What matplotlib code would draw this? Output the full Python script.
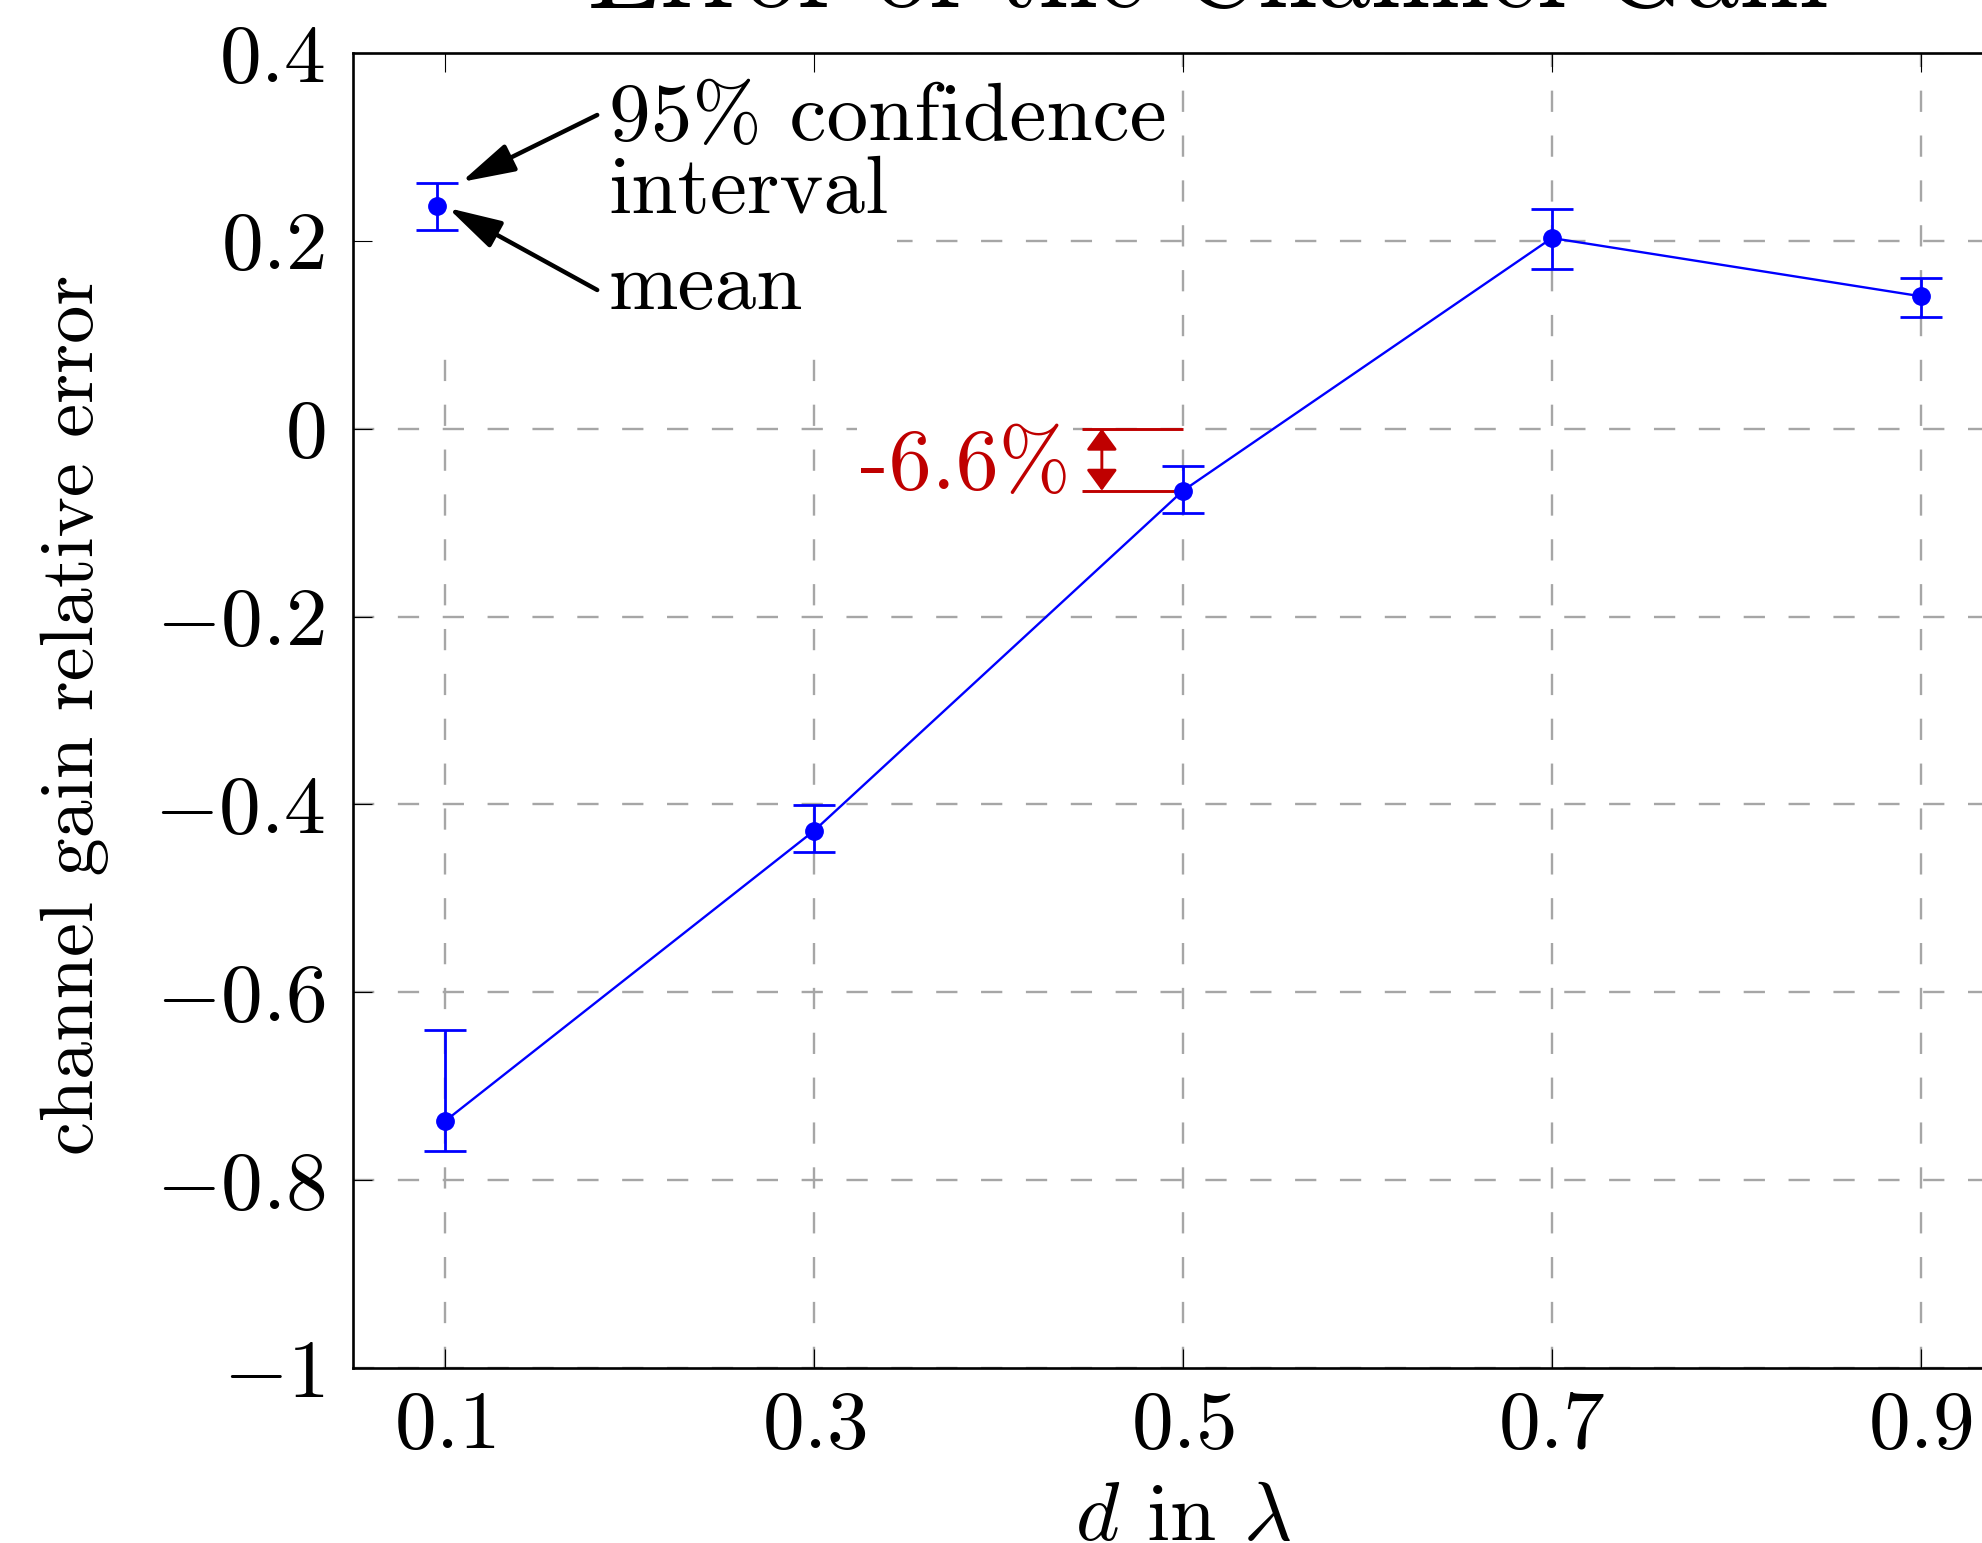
"""Relative error of the channel gain vs. antenna spacing, with CI error bars."""

import matplotlib

matplotlib.use("Agg")
import matplotlib.pyplot as plt
from matplotlib.patches import Rectangle
from matplotlib.ticker import FuncFormatter

# spacing d (in wavelengths) and the measured relative error with its 95% CI
d_lambda = [0.1, 0.3, 0.5, 0.7, 0.9]
err_mean = [-0.737, -0.428, -0.066, 0.203, 0.141]
ci_low = [-0.769, -0.451, -0.090, 0.170, 0.119]
ci_high = [-0.640, -0.401, -0.040, 0.234, 0.160]

# the explanatory sample drawn in the top-left corner
demo_x = [0.0955]
demo_mean = [0.237]
demo_low = [0.212]
demo_high = [0.262]

x_ticks = [0.1, 0.3, 0.5, 0.7, 0.9]
y_ticks = [-1.0, -0.8, -0.6, -0.4, -0.2, 0.0, 0.2, 0.4]

BLUE = "#0000ff"
DARKRED = "#bf0000"
GRID = "#a6a6a6"

W, H = 1983, 1543

plt.rcParams["font.family"] = "cmr10"
plt.rcParams["mathtext.fontset"] = "cm"
plt.rcParams["axes.formatter.use_mathtext"] = True

fig = plt.figure(figsize=(W / 100, H / 100), dpi=100)
# axes run past the right edge of the picture, as in the cropped original
ax = fig.add_axes([353 / W, (H - 1368) / H, 1660 / W, 1315 / H])
ax.set_xlim(0.05, 0.95)
ax.set_ylim(-1.0, 0.4)

ax.set_xticks(x_ticks)
ax.set_yticks(y_ticks)
ax.xaxis.set_major_formatter(FuncFormatter(lambda v, _: f"${v:g}$"))
ax.yaxis.set_major_formatter(FuncFormatter(lambda v, _: f"${round(v, 2) + 0:g}$"))
ax.tick_params(direction="in", top=True, right=True, length=14, width=0.8,
               labelsize=60)
ax.tick_params(axis="y", pad=20)
ax.tick_params(axis="x", pad=16)
for sp in ax.spines.values():
    sp.set_linewidth(1.9)

# dashed grid, drawn by hand so the note box can sit between grid and ticks
for xv in x_ticks:
    ax.axvline(xv, color=GRID, lw=1.7, ls=(0, (9, 10)), zorder=0.5)
for yv in y_ticks:
    ax.axhline(yv, color=GRID, lw=1.7, ls=(0, (9, 10)), zorder=0.5)

ax.add_patch(Rectangle((0.051, 0.095), 0.345 - 0.051, 0.4 - 0.095,
                       facecolor="white", edgecolor="none", zorder=1.0))

lo = [m - l for m, l in zip(err_mean, ci_low)]
hi = [h - m for m, h in zip(err_mean, ci_high)]
ax.errorbar(d_lambda, err_mean, yerr=[lo, hi], color=BLUE, lw=1.7,
            marker="o", ms=12.5, elinewidth=2.0, capsize=15, capthick=2.0, zorder=2)

dlo = [m - l for m, l in zip(demo_mean, demo_low)]
dhi = [h - m for m, h in zip(demo_mean, demo_high)]
ax.errorbar(demo_x, demo_mean, yerr=[dlo, dhi], color=BLUE, ls="none",
            marker="o", ms=12.5, elinewidth=2.0, capsize=15, capthick=2.0, zorder=2)

# explanation of the marks
ax.text(0.1886, 0.3074, "95% confidence", fontsize=60, ha="left", va="baseline", zorder=3)
ax.text(0.1886, 0.2297, "interval", fontsize=60, ha="left", va="baseline", zorder=3)
ax.text(0.1886, 0.1275, "mean", fontsize=60, ha="left", va="baseline", zorder=3)
black_arrow = dict(arrowstyle="-|>,head_length=33,head_width=9", mutation_scale=1,
                   color="black", lw=3.2, shrinkA=0, shrinkB=0)
ax.annotate("", xy=(0.1087, 0.2627), xytext=(0.1824, 0.334),
            arrowprops=black_arrow, zorder=4)
ax.annotate("", xy=(0.1015, 0.235), xytext=(0.1824, 0.1477),
            arrowprops=black_arrow, zorder=4)

# offset of the d = 0.5 mean from zero
mid = d_lambda[2]
off = err_mean[2]
ax.plot([0.4453, mid], [0, 0], color=DARKRED, lw=2.1, solid_capstyle="butt", zorder=1.8)
ax.plot([0.4453, mid], [off, off], color=DARKRED, lw=2.1, solid_capstyle="butt", zorder=1.8)
ax.annotate("", xy=(0.456, off), xytext=(0.456, 0),
            arrowprops=dict(arrowstyle="<|-|>,head_length=13,head_width=9.5",
                            mutation_scale=1, color=DARKRED, lw=2.1,
                            shrinkA=0, shrinkB=0), zorder=4)
ax.text(0.4388, -0.0642, f"{off * 100:.1f}%", fontsize=62, color=DARKRED,
        ha="right", va="baseline", zorder=3,
        bbox=dict(facecolor="white", edgecolor="none", pad=2))

ax.set_xlabel(r"$d$ in $\lambda$", fontsize=60)
ax.xaxis.label.set_verticalalignment("baseline")
ax.xaxis.set_label_coords(0.5, -0.1308)
ax.set_ylabel("channel gain relative error", fontsize=55)
ax.yaxis.label.set_verticalalignment("baseline")
ax.yaxis.set_label_coords(-0.1566, 0.497)

fig.text(1208 / W, 1 - 7 / H, "Error of the Channel Gain", fontsize=77,
         ha="center", va="baseline")

fig.savefig("out.png", dpi=100, facecolor="white")
